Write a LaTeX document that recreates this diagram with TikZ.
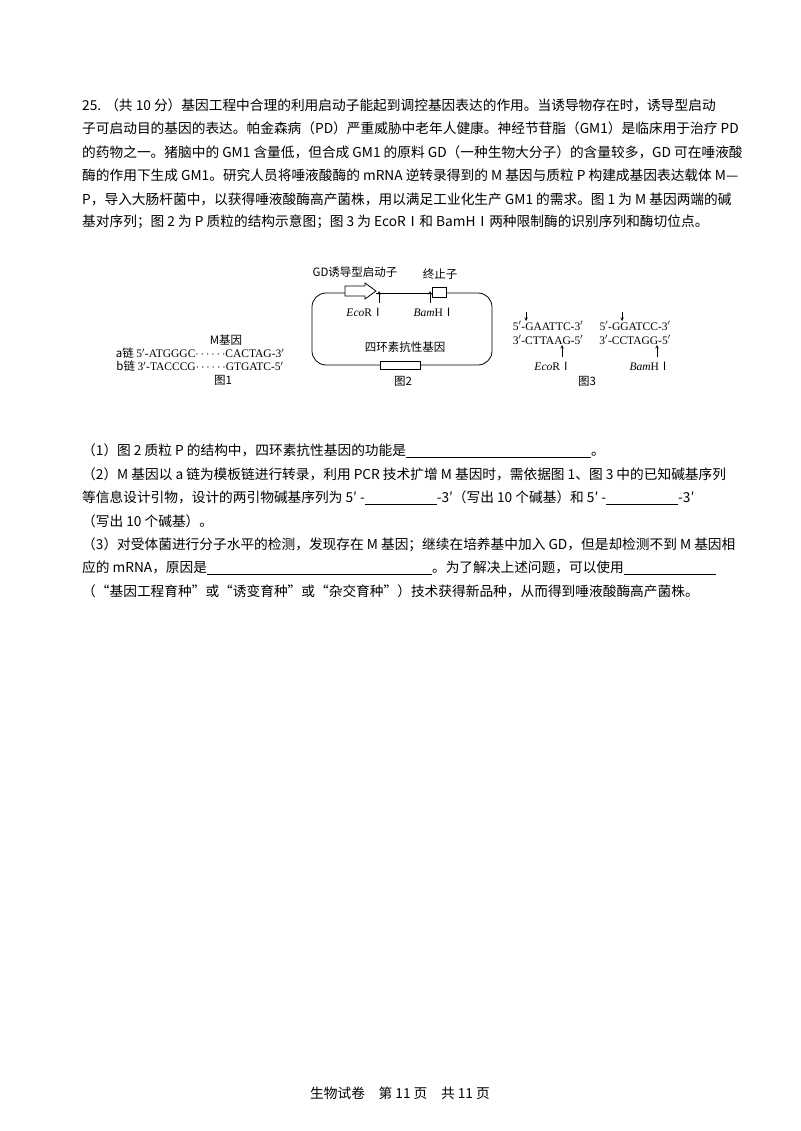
\documentclass[tikz,border=0pt]{standalone}
\usepackage{fontspec}
\setmainfont{Noto Sans CJK SC}
\newfontfamily\lat{Liberation Serif}
\newfontfamily\cjkf{Noto Sans CJK SC}
\newcommand\romI{{\cjkf\upshape Ⅰ}}
\begin{document}
\begin{tikzpicture}[x=1pt,y=-1pt,
  body/.style={anchor=west,inner sep=0,font=\fontsize{13.7}{16}\selectfont},
  fig/.style={inner sep=0,font=\fontsize{11.5}{13}\selectfont},
  seq/.style={inner sep=0,font=\lat\fontsize{11.5}{13}\selectfont},
  ln/.style={line width=0.8pt},
  arr/.style={->,>=stealth,line width=0.6pt}]
\useasboundingbox (0,0) rectangle (800,1131);
\fill[white] (0,0) rectangle (800,1131);
\node[body] (t1) at (82,105) {25. （共 10 分）基因工程中合理的利用启动子能起到调控基因表达的作用。当诱导物存在时，诱导型启动};
\node[body] (t2) at (82,128) {子可启动目的基因的表达。帕金森病（PD）严重威胁中老年人健康。神经节苷脂（GM1）是临床用于治疗 PD};
\node[body] (t3) at (82,152) {的药物之一。猪脑中的 GM1 含量低，但合成 GM1 的原料 GD（一种生物大分子）的含量较多，GD 可在唾液酸};
\node[body] (t4) at (82,175) {酶的作用下生成 GM1。研究人员将唾液酸酶的 mRNA 逆转录得到的 M 基因与质粒 P 构建成基因表达载体 M—};
\node[body] (t5) at (82,199) {P，导入大肠杆菌中，以获得唾液酸酶高产菌株，用以满足工业化生产 GM1 的需求。图 1 为 M 基因两端的碱};
\node[body] (t6) at (82,222) {基对序列；图 2 为 P 质粒的结构示意图；图 3 为 EcoRⅠ和 BamHⅠ两种限制酶的识别序列和酶切位点。};
% Figure 1
\node[fig] (m) at (226,340) {M基因};
\node[fig] (a) at (200,353) {a链 {\lat 5$'$-ATGGGC$\cdots\cdots$CACTAG-3$'$}};
\node[fig] (b) at (200,366) {b链 {\lat 3$'$-TACCCG$\cdots\cdots$GTGATC-5$'$}};
\node[fig] (f1) at (223,380) {图1};
% Figure 2
\draw[ln,rounded corners=14pt] (345,293) -- (312,293) -- (312,365) -- (380,365);
\draw[ln,rounded corners=14pt] (420,365) -- (492,365) -- (492,293) -- (444,293);
\draw[ln] (376,293) -- (432,293);
\draw[ln,fill=white] (345,286) -- (365,286) -- (365,283) -- (376,291) -- (365,299) -- (365,296) -- (345,296) -- cycle;
\node[fig] (gd) at (355,272) {GD诱导型启动子};
\coordinate (e0) at (379,303); \coordinate (e1) at (379,291);
\draw[arr] (e0) -- (e1);
\node[fig] (eco) at (365,312) {\lat\itshape Eco\upshape R\romI};
\draw[ln,fill=white] (432,287) rectangle (446,297);
\node[fig] (term) at (440,274) {终止子};
\coordinate (b0) at (430,303); \coordinate (b1) at (430,291);
\draw[arr] (b0) -- (b1);
\node[fig] (bam) at (434,312) {\lat\itshape Bam\upshape H\romI};
\draw[ln,fill=white] (380,361) rectangle (420,369);
\node[fig] (tet) at (405,347) {四环素抗性基因};
\node[fig] (f2) at (403,381) {图2};
% Figure 3
\node[seq] (s1) at (548,326) {5$'$-GAATTC-3$'$};
\node[seq] (s2) at (548,340) {3$'$-CTTAAG-5$'$};
\coordinate (c1) at (526,312); \coordinate (c2) at (526,321);
\draw[arr] (c1) -- (c2);
\coordinate (c3) at (562,357); \coordinate (c4) at (562,345);
\draw[arr] (c3) -- (c4);
\node[fig] (eco3) at (553,366) {\lat\itshape Eco\upshape R\romI};
\node[seq] (s3) at (635,326) {5$'$-GGATCC-3$'$};
\node[seq] (s4) at (635,340) {3$'$-CCTAGG-5$'$};
\coordinate (d1) at (622,312); \coordinate (d2) at (622,321);
\draw[arr] (d1) -- (d2);
\coordinate (d3) at (657,357); \coordinate (d4) at (657,345);
\draw[arr] (d3) -- (d4);
\node[fig] (bam3) at (650,366) {\lat\itshape Bam\upshape H\romI};
\node[fig] (f3) at (587,381) {图3};
% Questions
\node[body] (q1) at (82,451) {（1）图 2 质粒 P 的结构中，四环素抗性基因的功能是\underline{\hspace{185pt}}。};
\node[body] (q2) at (82,474) {（2）M 基因以 a 链为模板链进行转录，利用 PCR 技术扩增 M 基因时，需依据图 1、图 3 中的已知碱基序列};
\node[body] (q3) at (82,498) {等信息设计引物，设计的两引物碱基序列为 5′ -\underline{\hspace{72pt}}-3′（写出 10 个碱基）和 5′ -\underline{\hspace{72pt}}-3′};
\node[body] (q4) at (82,521) {（写出 10 个碱基）。};
\node[body] (q5) at (82,545) {（3）对受体菌进行分子水平的检测，发现存在 M 基因；继续在培养基中加入 GD，但是却检测不到 M 基因相};
\node[body] (q6) at (82,568) {应的 mRNA，原因是\underline{\hspace{225pt}}。为了解决上述问题，可以使用\underline{\hspace{92pt}}};
\node[body] (q7) at (82,591) {（“基因工程育种”或“诱变育种”或“杂交育种”）技术获得新品种，从而得到唾液酸酶高产菌株。};
\node[inner sep=0,font=\fontsize{13.7}{16}\selectfont] (foot) at (400,1093) {生物试卷\quad 第 11 页\quad 共 11 页};
\end{tikzpicture}
\end{document}
